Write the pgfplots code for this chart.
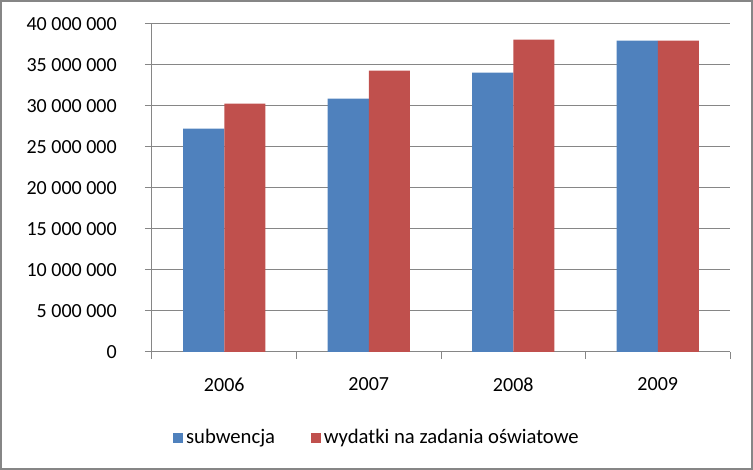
\documentclass[border=0pt]{standalone}
\usepackage{pgfplots}
\pgfplotsset{compat=1.18}
\usepackage{fontspec}
\setmainfont{Carlito}
\definecolor{barblue}{HTML}{4F81BD}
\definecolor{barred}{HTML}{C0504D}
\definecolor{axisgray}{HTML}{868686}

\begin{document}
\fontsize{15pt}{18pt}\selectfont
\begin{tikzpicture}
\useasboundingbox (0,0) rectangle (564.75pt,352.5pt);
\draw[axisgray, line width=1.5pt] (0.75pt,0.75pt) rectangle (564pt,351.75pt);
\begin{axis}[
    at={(114pt,88.5pt)}, anchor=south west,
    scale only axis, width=433.5pt, height=246pt,
    xmin=-0.5, xmax=3.5, ymin=0, ymax=40000000,
    ybar=0pt, bar width=0.284,
    xtick={-0.5,0.5,1.5,2.5,3.5},
    x tick label as interval,
    xticklabels={2006,2007,2008,2009},
    ytick={0,5000000,10000000,15000000,20000000,25000000,30000000,35000000,40000000},
    scaled y ticks=false,
    /pgf/number format/fixed,
    /pgf/number format/1000 sep={\ },
    /pgf/number format/assume math mode=true,
    ymajorgrids,
    grid style={axisgray, line width=0.75pt},
    axis x line*=bottom, axis y line*=left,
    axis line style={axisgray, line width=0.75pt},
    tick align=outside, major tick length=5.25pt,
    tick style={axisgray, line width=0.75pt},
    yticklabel style={anchor=east, inner sep=0pt, xshift=-21pt},
    xticklabel style={anchor=north, inner sep=0pt, yshift=-14pt},
    legend style={at={(0.39,-0.262)}, anchor=center, draw=none,
        font=\fontsize{15.5pt}{18pt}\selectfont,
        legend columns=-1,
        /tikz/every even column/.append style={column sep=25pt}},
    legend image code/.code={\fill[#1] (0pt,-3.75pt) rectangle (7.5pt,3.75pt);},
]
\addplot[fill=barblue, draw=none]
    coordinates {(0,27230000) (1,30890000) (2,34060000) (3,37960000)};
\addplot[fill=barred, draw=none]
    coordinates {(0,30280000) (1,34300000) (2,38090000) (3,37960000)};
\legend{subwencja, wydatki na zadania oświatowe}
\end{axis}
\end{tikzpicture}
\end{document}
